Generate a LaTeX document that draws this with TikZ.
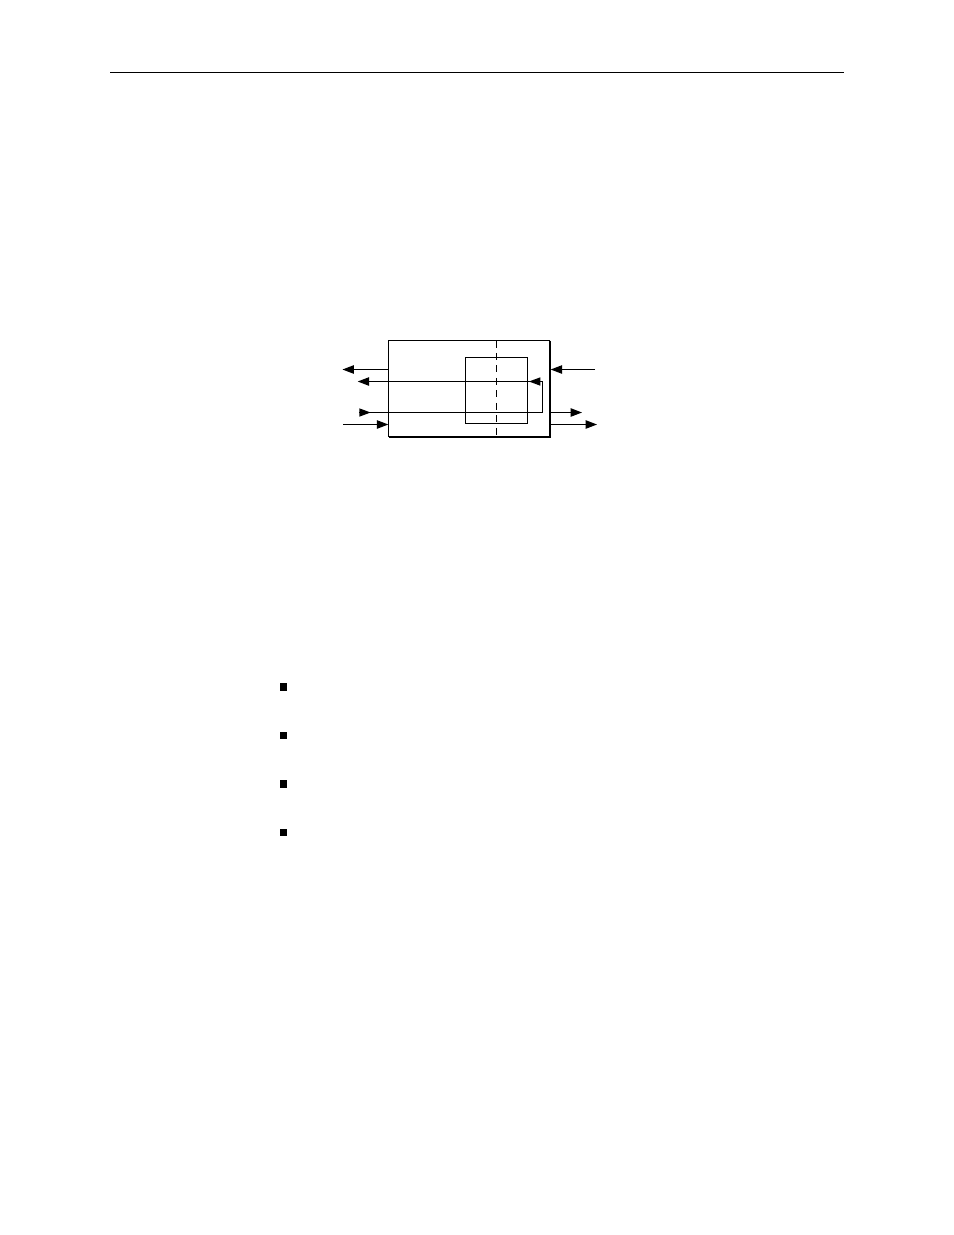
\documentclass[tikz,border=0pt]{standalone}
\usetikzlibrary{arrows.meta}
\begin{document}
\begin{tikzpicture}[x=0.6415pt,y=-0.6415pt,
  thin line/.style={line width=0.7pt},
  arr/.style={thin line,-{Triangle[length=7.3pt,width=5.4pt]}},
  bulletsq/.style={fill=black,minimum size=4.6pt,inner sep=0pt,outer sep=0pt}]
\useasboundingbox (0,0) rectangle (954,1235);
% header rule
\coordinate (hl) at (110,72.5);
\coordinate (hr) at (844,72.5);
\draw[thin line] (hl) -- (hr);
% outer box
\coordinate (oNW) at (388.5,340.5);
\coordinate (oNE) at (550,340.5);
\coordinate (oSE) at (550,437);
\coordinate (oSW) at (388.5,437);
\draw[thin line] (oSW) -- (oNW) -- (oNE);
\draw[line width=1.4pt] (oNE) -- (oSE) -- (oSW);
% inner box
\coordinate (iNW) at (465.5,357.5);
\coordinate (iSE) at (527.5,423.5);
\draw[thin line] (iNW) rectangle (iSE);
% dashed divider
\coordinate (dT) at (496.5,340.5);
\coordinate (dB) at (496.5,437);
\draw[thin line,dash pattern=on 4.5pt off 3.5pt] (dT) -- (dB);
% left side arrows
\coordinate (L1a) at (388.5,369.5);
\coordinate (L1b) at (342.5,369.5);
\draw[arr] (L1a) -- (L1b);
\coordinate (L4a) at (343.3,424.5);
\coordinate (L4b) at (388.3,424.5);
\draw[arr] (L4a) -- (L4b);
% loop
\coordinate (p1) at (359.3,412.5);
\coordinate (p2) at (542.5,412.5);
\coordinate (p3) at (542.5,381.5);
\coordinate (p4) at (357.7,381.5);
\draw[arr] (p1) -- (p2) -- (p3) -- (p4);
% extra heads on the loop
\fill (359.3,408.3) -- (370.6,412.5) -- (359.3,416.7) -- cycle;
\fill (540.3,377.3) -- (529,381.5) -- (540.3,385.7) -- cycle;
% right side arrows
\coordinate (R1a) at (595,369.5);
\coordinate (R1b) at (550.7,369.5);
\draw[arr] (R1a) -- (R1b);
\coordinate (R2a) at (550,412.5);
\coordinate (R2b) at (582,412.5);
\draw[arr] (R2a) -- (R2b);
\coordinate (R3a) at (550,424.5);
\coordinate (R3b) at (597,424.5);
\draw[arr] (R3a) -- (R3b);
% bullets
\node[bulletsq] (b1) at (283.7,687) {};
\node[bulletsq] (b2) at (283.7,735.7) {};
\node[bulletsq] (b3) at (283.7,784) {};
\node[bulletsq] (b4) at (283.7,832.3) {};
\end{tikzpicture}
\end{document}
